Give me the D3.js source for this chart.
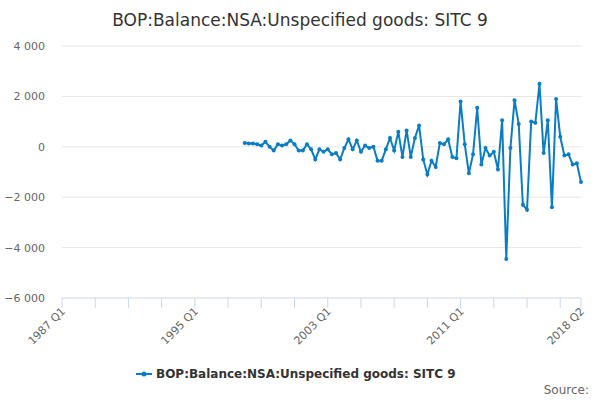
<!DOCTYPE html>
<html><head><meta charset="utf-8">
<script src="https://cdn.jsdelivr.net/npm/d3@7"></script>
<style>body{margin:0;background:#fff;font-family:"DejaVu Sans",sans-serif}</style>
</head><body><svg id="chart" width="600" height="400"></svg>
<script>
const startYear = 1998;
const values = [150,130,130,100, 50,200,0,-150, 100,50,100,250, 100,-150,-150,100,
  -100,-500,-100,-200, -100,-300,-250,-500, -50,300,-100,250, -200,50,-50,0,
  -550,-550,-100,350, -150,600,-400,650, -400,350,850,-500, -1100,-550,-800,150,
  100,300,-400,-450, 1800,100,-1050,-300, 1550,-700,-50,-350, -200,-900,1050,-4450,
  -50,1850,900,-2300, -2500,1000,950,2500, -250,1050,-2400,1900, 400,-350,-300,-700,
  -650,-1400];
const tickLabels = ["1987 Q1","1995 Q1","2003 Q1","2011 Q1","2018 Q2"];
const yTicks = [4000,2000,0,-2000,-4000,-6000];
const seriesName = "BOP:Balance:NSA:Unspecified goods: SITC 9";

const qIndex = (y, q) => (y - 1987) * 4 + (q - 1);
const data = values.map((v, i) => ({ t: qIndex(startYear, 1) + i, v }));

const svg = d3.select("#chart");
const x = d3.scaleLinear().domain([0, qIndex(2018, 2)]).range([62, 581]);
const y = d3.scaleLinear().domain([-6000, 4000]).range([298, 46]);
const fmt = d => d3.format(",")(d).replace(/,/g, " ").replace("-", "-");

svg.append("text").attr("x", 300).attr("y", 26).attr("text-anchor", "middle")
  .attr("font-size", 17).attr("fill", "#333").text("BOP:Balance:NSA:Unspecified goods: SITC 9");

svg.append("g").selectAll("line").data(yTicks.filter(d => d > -6000)).join("line")
  .attr("x1", 62).attr("x2", 581).attr("y1", d => y(d)).attr("y2", d => y(d))
  .attr("stroke", "#e6e6e6");

svg.append("g").selectAll("text").data(yTicks).join("text")
  .attr("x", 45).attr("y", d => y(d) + 4).attr("text-anchor", "end")
  .attr("font-size", 11).attr("fill", "#666").text(fmt);

// x axis baseline and ticks every 2 years
svg.append("line").attr("x1", 62).attr("x2", 581).attr("y1", 298).attr("y2", 298).attr("stroke", "#ccd6eb");
svg.append("g").selectAll("line").data(d3.range(0, qIndex(2018, 2) + 1, 8).concat([qIndex(2018, 2)])).join("line")
  .attr("x1", d => x(d)).attr("x2", d => x(d)).attr("y1", 298).attr("y2", 308).attr("stroke", "#ccd6eb");

const labelPos = [0, 32, 64, 96, qIndex(2018, 2)];
svg.append("g").selectAll("text").data(tickLabels).join("text")
  .attr("transform", (d, i) => `translate(${x(labelPos[i]) + 4},${312}) rotate(-45)`)
  .attr("text-anchor", "end").attr("font-size", 11).attr("fill", "#666").text(d => d);

svg.append("path").datum(data).attr("fill", "none").attr("stroke", "#0a7dc4").attr("stroke-width", 2)
  .attr("d", d3.line().x(d => x(d.t)).y(d => y(d.v)));
svg.append("g").selectAll("circle").data(data).join("circle")
  .attr("cx", d => x(d.t)).attr("cy", d => y(d.v)).attr("r", 2).attr("fill", "#0a7dc4");

const lg = svg.append("g").attr("transform", "translate(136,374)");
lg.append("line").attr("x1", 0).attr("x2", 16).attr("stroke", "#0a7dc4").attr("stroke-width", 2);
lg.append("circle").attr("cx", 8).attr("r", 2.5).attr("fill", "#0a7dc4");
lg.append("text").attr("x", 20).attr("y", 4).attr("font-size", 12).attr("font-weight", "bold")
  .attr("fill", "#333").text(seriesName);

svg.append("text").attr("x", 589).attr("y", 394).attr("text-anchor", "end")
  .attr("font-size", 12).attr("fill", "#666").text("Source:");
</script></body></html>
